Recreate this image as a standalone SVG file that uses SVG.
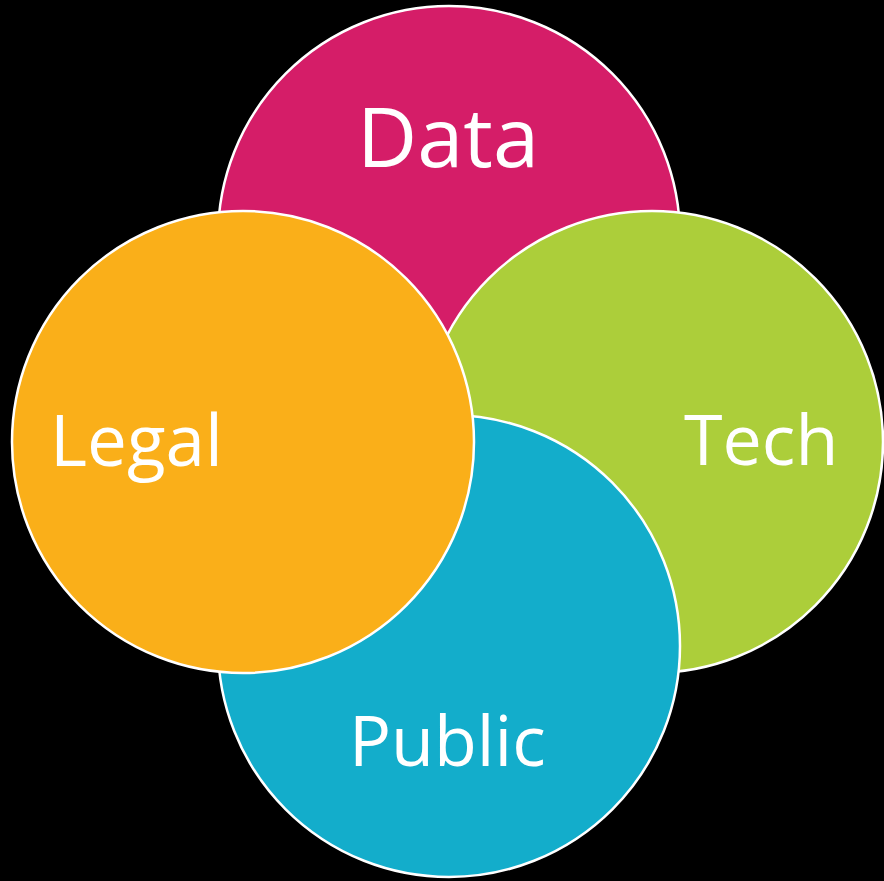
<svg xmlns="http://www.w3.org/2000/svg" width="884" height="881" viewBox="0 0 884 881">
<style>
.c{stroke:#FFFFFF;stroke-width:2.5}
.t{fill:#FFFFFF;font-family:"Open Sans","Noto Sans",sans-serif;font-weight:400}
</style>
<rect x="0" y="0" width="884" height="881" fill="#000000"/>
<g id="data"><circle class="c" cx="449" cy="237" r="231" fill="#D51D68"/><text class="t" x="357" y="167" font-size="83">Data</text></g>
<g id="tech"><circle class="c" cx="652" cy="442" r="231" fill="#ACCE3A"/><text class="t" x="684" y="465" font-size="70">Tech</text></g>
<g id="public"><circle class="c" cx="449" cy="646" r="231" fill="#13ADCB"/><text class="t" x="349" y="766" font-size="70">Public</text></g>
<g id="legal"><circle class="c" cx="243" cy="442" r="231" fill="#FAAF19"/><text class="t" x="50" y="466" font-size="71">Legal</text></g>
<g id="connectors"></g>
</svg>
